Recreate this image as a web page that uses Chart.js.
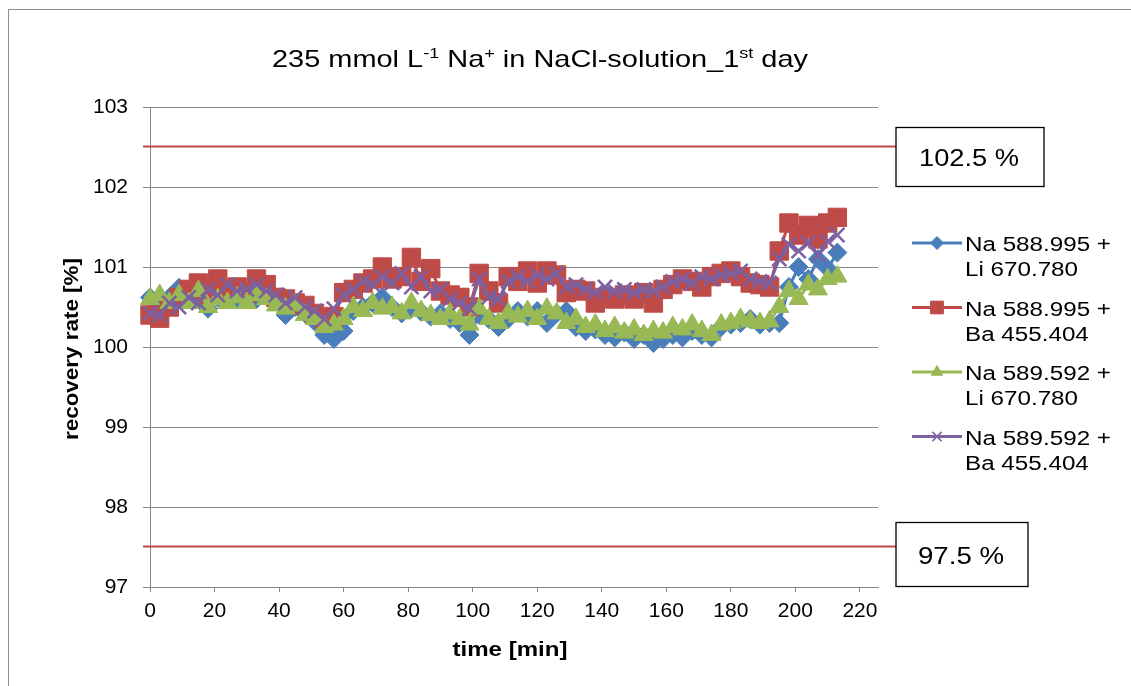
<!DOCTYPE html>
<html>
<head>
<meta charset="utf-8">
<script src="https://cdn.jsdelivr.net/npm/chart.js@4/dist/chart.umd.min.js"></script>
<style>
  html, body { margin: 0; padding: 0; background: #ffffff; }
  canvas { display: block; }
</style>
</head>
<body>
<canvas id="chart" width="1131" height="686"></canvas>
<script>
// Measurement times [min]
const times = [0, 3, 6, 9, 12, 15, 18, 21, 24, 27, 30, 33, 36, 39, 42, 45, 48, 51, 54, 57,
  60, 63, 66, 69, 72, 75, 78, 81, 84, 87, 90, 93, 96, 99, 102, 105, 108, 111, 114, 117,
  120, 123, 126, 129, 132, 135, 138, 141, 144, 147, 150, 153, 156, 159, 162, 165, 168, 171, 174, 177,
  180, 183, 186, 189, 192, 195, 198, 201, 204, 207, 210, 213];

// Recovery rates [%] per line combination
const na588Li = [100.62, 100.55, 100.62, 100.74, 100.62, 100.60, 100.48, 100.62, 100.66, 100.60,
  100.64, 100.60, 100.66, 100.58, 100.40, 100.50, 100.42, 100.32, 100.15, 100.10,
  100.20, 100.45, 100.50, 100.55, 100.62, 100.50, 100.42, 100.48, 100.44, 100.38,
  100.42, 100.35, 100.30, 100.15, 100.40, 100.35, 100.25, 100.35, 100.45, 100.38,
  100.45, 100.30, 100.42, 100.45, 100.25, 100.20, 100.22, 100.15, 100.12, 100.18,
  100.10, 100.15, 100.05, 100.10, 100.15, 100.12, 100.20, 100.15, 100.12, 100.25,
  100.28, 100.30, 100.35, 100.28, 100.30, 100.30, 100.75, 101.00, 100.85, 101.10,
  100.98, 101.18];

const na588Ba = [100.40, 100.36, 100.50, 100.62, 100.72, 100.80, 100.65, 100.85, 100.72, 100.75,
  100.68, 100.85, 100.78, 100.62, 100.60, 100.55, 100.52, 100.42, 100.35, 100.38,
  100.68, 100.72, 100.80, 100.85, 101.00, 100.85, 100.88, 101.12, 100.82, 100.98,
  100.70, 100.65, 100.62, 100.50, 100.92, 100.70, 100.55, 100.88, 100.82, 100.95,
  100.80, 100.95, 100.90, 100.68, 100.72, 100.70, 100.55, 100.62, 100.60, 100.65,
  100.60, 100.68, 100.55, 100.72, 100.78, 100.85, 100.82, 100.75, 100.88, 100.92,
  100.95, 100.88, 100.80, 100.78, 100.75, 101.20, 101.55, 101.40, 101.52, 101.35,
  101.55, 101.62];

const na589Li = [100.60, 100.65, 100.55, 100.65, 100.55, 100.70, 100.50, 100.60, 100.55, 100.62,
  100.55, 100.65, 100.60, 100.52, 100.48, 100.52, 100.40, 100.35, 100.25, 100.28,
  100.35, 100.50, 100.45, 100.55, 100.48, 100.50, 100.42, 100.55, 100.45, 100.40,
  100.35, 100.42, 100.35, 100.28, 100.48, 100.35, 100.30, 100.42, 100.38, 100.45,
  100.35, 100.48, 100.42, 100.30, 100.35, 100.25, 100.28, 100.20, 100.25, 100.18,
  100.22, 100.15, 100.20, 100.18, 100.25, 100.22, 100.28, 100.20, 100.15, 100.28,
  100.30, 100.35, 100.32, 100.30, 100.32, 100.50, 100.70, 100.60, 100.78, 100.72,
  100.85, 100.88];

const na589Ba = [100.42, 100.40, 100.55, 100.50, 100.62, 100.55, 100.72, 100.65, 100.78, 100.70,
  100.72, 100.78, 100.70, 100.65, 100.55, 100.62, 100.50, 100.45, 100.35, 100.48,
  100.65, 100.72, 100.82, 100.78, 100.88, 100.80, 100.92, 100.75, 100.88, 100.70,
  100.72, 100.60, 100.55, 100.48, 100.85, 100.62, 100.60, 100.82, 100.88, 100.82,
  100.90, 100.85, 100.92, 100.75, 100.78, 100.72, 100.68, 100.75, 100.70, 100.72,
  100.68, 100.72, 100.70, 100.75, 100.82, 100.85, 100.80, 100.88, 100.85, 100.90,
  100.92, 100.95, 100.85, 100.82, 100.80, 101.10, 101.28, 101.20, 101.30, 101.15,
  101.32, 101.40];

// Axis ticks
const xTicks = [0, 20, 40, 60, 80, 100, 120, 140, 160, 180, 200, 220];
const yTicks = [97, 98, 99, 100, 101, 102, 103];

// Acceptance limits [%] and their labels
const limits = [102.5, 97.5];
const limitLabels = ['102.5 %', '97.5 %'];

// Legend text, two lines per series
const seriesNames = [
  ['Na 588.995 +', 'Li 670.780'],
  ['Na 588.995 +', 'Ba 455.404'],
  ['Na 589.592 +', 'Li 670.780'],
  ['Na 589.592 +', 'Ba 455.404']
];

const FONT = '"Liberation Sans", Arial, sans-serif';
const COLORS = ['#4A7EBB', '#BE4B48', '#98B954', '#7D60A0'];
const STYLES = [
  { pointStyle: 'rectRot', pointRadius: 9.5, pointBorderWidth: 1 },
  { pointStyle: 'rect', pointRadius: 13, pointBorderWidth: 1 },
  { pointStyle: 'triangle', pointRadius: 11, pointBorderWidth: 1 },
  { pointStyle: 'crossRot', pointRadius: 10, pointBorderWidth: 2.5 }
];
const seriesValues = [na588Li, na588Ba, na589Li, na589Ba];

const datasets = seriesValues.map((vals, k) => ({
  label: seriesNames[k].join(' '),
  data: times.map((t, i) => ({ x: t, y: vals[i] })),
  borderColor: COLORS[k],
  backgroundColor: COLORS[k],
  pointBackgroundColor: COLORS[k],
  pointBorderColor: COLORS[k],
  borderWidth: 3,
  tension: 0,
  clip: false,
  order: 4 - k,
  ...STYLES[k]
}));

// Draws text stretched horizontally to a given width
function drawWide(ctx, parts, cx, baseline, size, weight, targetWidth) {
  ctx.save();
  const supSize = Math.round(size * 0.62);
  let w = 0;
  parts.forEach(p => {
    ctx.font = `${weight} ${p.sup ? supSize : size}px ${FONT}`;
    p.w = ctx.measureText(p.t).width;
    w += p.w;
  });
  const sx = targetWidth ? targetWidth / w : 1;
  ctx.translate(cx, baseline);
  ctx.scale(sx, 1);
  ctx.textBaseline = 'alphabetic';
  ctx.textAlign = 'left';
  ctx.fillStyle = '#000';
  let x = -w / 2;
  parts.forEach(p => {
    ctx.font = `${weight} ${p.sup ? supSize : size}px ${FONT}`;
    ctx.fillText(p.t, x, p.sup ? -size * 0.38 : 0);
    x += p.w;
  });
  ctx.restore();
}

function drawLeft(ctx, text, x, baseline, size, sx) {
  ctx.save();
  ctx.translate(x, baseline);
  ctx.scale(sx, 1);
  ctx.font = `${size}px ${FONT}`;
  ctx.fillStyle = '#000';
  ctx.textAlign = 'left';
  ctx.textBaseline = 'alphabetic';
  ctx.fillText(text, 0, 0);
  ctx.restore();
}

const decorations = {
  id: 'decorations',
  beforeDraw(chart) {
    const ctx = chart.ctx;
    ctx.save();
    ctx.fillStyle = '#ffffff';
    ctx.fillRect(0, 0, chart.width, chart.height);
    ctx.strokeStyle = '#8c8c8c';
    ctx.lineWidth = 1;
    ctx.strokeRect(8.5, 9.5, chart.width + 20, chart.height + 20);
    ctx.restore();
  },
  afterDraw(chart) {
    const ctx = chart.ctx;
    const ys = chart.scales.y;
    const area = chart.chartArea;

    // Limit lines with labelled boxes
    limits.forEach((v, i) => {
      const py = Math.round(ys.getPixelForValue(v)) - 0.5;
      const boxLeft = 896;
      const boxW = i === 0 ? 148 : 132;
      const boxTop = i === 0 ? py - 19 : py - 24;
      const boxH = i === 0 ? 59 : 64;
      ctx.save();
      ctx.strokeStyle = '#BE4B48';
      ctx.lineWidth = 1.8;
      ctx.beginPath();
      ctx.moveTo(area.left - 7, py);
      ctx.lineTo(boxLeft, py);
      ctx.stroke();
      ctx.strokeStyle = '#000';
      ctx.lineWidth = 1.3;
      ctx.fillStyle = '#fff';
      ctx.fillRect(boxLeft, boxTop, boxW, boxH);
      ctx.strokeRect(boxLeft, boxTop, boxW, boxH);
      ctx.restore();
      const tw = i === 0 ? 100 : 86;
      drawWide(ctx, [{ t: limitLabels[i] }], boxLeft + boxW / 2 - 1, boxTop + boxH / 2 + 9, 24, 'normal', tw);
    });

    // Title
    drawWide(ctx, [
      { t: '235 mmol L' }, { t: '-1', sup: true }, { t: ' Na' }, { t: '+', sup: true },
      { t: ' in NaCl-solution_1' }, { t: 'st', sup: true }, { t: ' day' }
    ], 540, 67, 24, 'normal', 536);

    // Axis titles
    drawWide(ctx, [{ t: 'time [min]' }], 510, 656, 20, 'bold', 115);
    ctx.save();
    ctx.translate(78, 349);
    ctx.rotate(-Math.PI / 2);
    drawWide(ctx, [{ t: 'recovery rate [%]' }], 0, 0, 20, 'bold', 182);
    ctx.restore();

    // Legend
    chart.data.datasets.forEach((ds, k) => {
      const cy = 243 + k * 64.5;
      ctx.save();
      ctx.strokeStyle = ds.borderColor;
      ctx.lineWidth = 3;
      ctx.beginPath();
      ctx.moveTo(912, cy);
      ctx.lineTo(962, cy);
      ctx.stroke();
      ctx.fillStyle = ds.backgroundColor;
      ctx.strokeStyle = ds.borderColor;
      ctx.lineWidth = ds.pointStyle === 'crossRot' ? 1.5 : 1;
      Chart.helpers.drawPoint(ctx, {
        pointStyle: ds.pointStyle,
        radius: ds.pointStyle === 'rect' ? 9 : 6.5,
        rotation: 0,
        borderWidth: ctx.lineWidth
      }, 937, cy);
      ctx.restore();
      drawLeft(ctx, seriesNames[k][0], 965, cy + 8, 20, 1.21);
      drawLeft(ctx, seriesNames[k][1], 965, cy + 33, 20, 1.21);
    });
  }
};

new Chart(document.getElementById('chart'), {
  type: 'line',
  data: { datasets },
  options: {
    responsive: false,
    animation: false,
    devicePixelRatio: 1,
    layout: { padding: { left: 0, right: 253, top: 107, bottom: 0 } },
    plugins: {
      legend: { display: false },
      title: { display: false },
      tooltip: { enabled: false }
    },
    scales: {
      x: {
        type: 'linear',
        min: 0,
        max: 225.6,
        afterBuildTicks: s => { s.ticks = xTicks.map(v => ({ value: v })); },
        afterFit: s => { s.height = 99; },
        grid: { display: true, drawOnChartArea: false, drawTicks: true, tickLength: 5, color: '#868686' },
        border: { display: true, color: '#868686', width: 1 },
        ticks: { color: '#000', font: { family: FONT, size: 21 }, padding: 7, maxRotation: 0, autoSkip: false }
      },
      y: {
        type: 'linear',
        min: 97,
        max: 103,
        afterBuildTicks: s => { s.ticks = yTicks.map(v => ({ value: v })); },
        afterFit: s => { s.width = 150; },
        grid: { color: '#868686', lineWidth: 1, tickLength: 7 },
        border: { display: true, color: '#868686', width: 1 },
        ticks: { color: '#000', font: { family: FONT, size: 21 }, padding: 15 }
      }
    }
  },
  plugins: [decorations]
});
</script>
</body>
</html>
